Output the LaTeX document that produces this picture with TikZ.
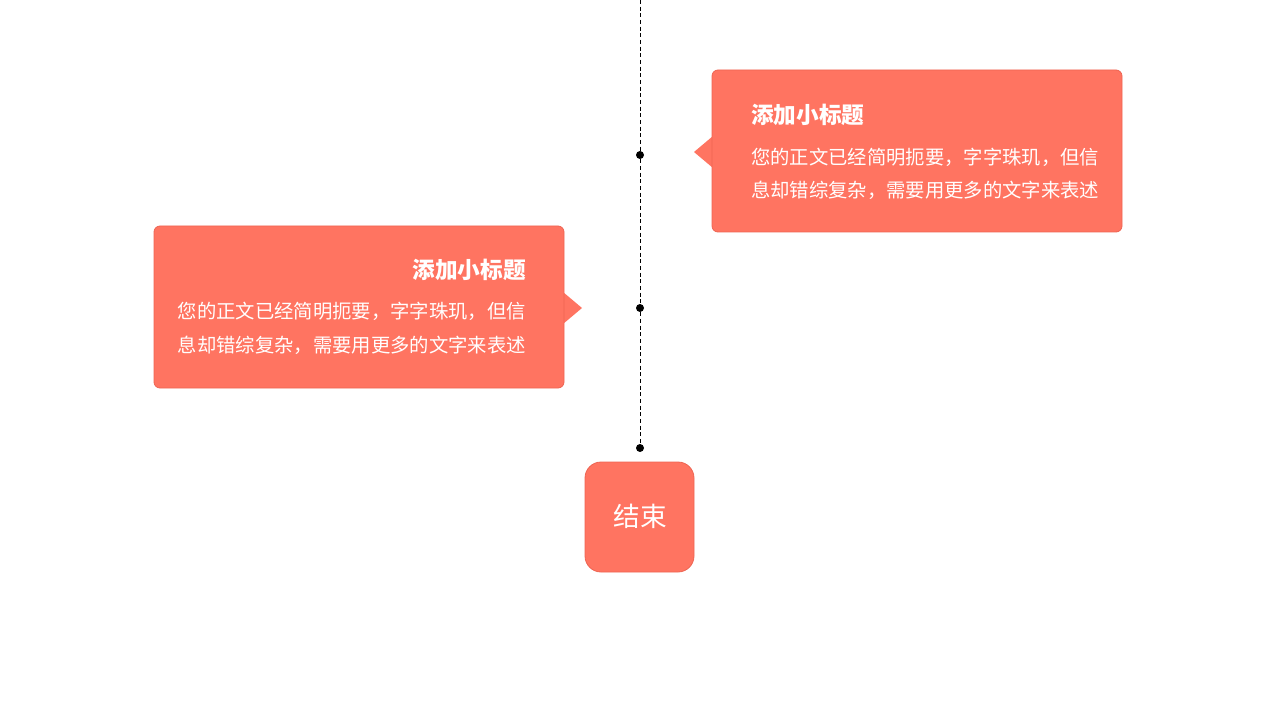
\documentclass[tikz,border=0pt]{standalone}
\usepackage{fontspec}
\setmainfont{Noto Sans CJK SC}
\begin{document}
\begin{tikzpicture}[x=0.75pt,y=-0.75pt]
\definecolor{boxc}{HTML}{FF7461}
\definecolor{boxd}{HTML}{EE6452}
\tikzset{card/.style={fill=boxc,draw=boxd,line width=0.6pt,rounded corners=4.5pt},
  ttl/.style={text=white,font=\fontsize{17}{20}\selectfont\bfseries,inner sep=0},
  body/.style={text=white,font=\fontsize{14.5}{17}\selectfont,inner sep=0},
  dot/.style={circle,fill=black,inner sep=0,minimum size=6pt}}
\useasboundingbox (0,0) rectangle (1280,720);
\coordinate (top) at (640,0);
\node[dot] (d1) at (640,155) {};
\node[dot] (d2) at (640,308) {};
\node[dot] (d3) at (640,448) {};
\draw[dashed,line width=0.7pt,dash pattern=on 3pt off 2pt] (top) -- (d1) -- (d2) -- (d3);
% right card
\fill[boxc] (694,152) -- (713,136) -- (713,168) -- cycle;
\draw[card] (712,70) rectangle (1122,232);
\node[ttl,anchor=west] (t1) at (751,115) {添加小标题};
\node[body,anchor=west] (b1) at (751,157) {您的正文已经简明扼要，字字珠玑，但信};
\node[body,anchor=west] (b2) at (751,190) {息却错综复杂，需要用更多的文字来表述};
% left card
\fill[boxc] (582,308) -- (563,292) -- (563,324) -- cycle;
\draw[card] (154,226) rectangle (564,388);
\node[ttl,anchor=east] (t2) at (526,270) {添加小标题};
\node[body,anchor=east] (b3) at (526,311) {您的正文已经简明扼要，字字珠玑，但信};
\node[body,anchor=east] (b4) at (526,345) {息却错综复杂，需要用更多的文字来表述};
% end
\draw[card,rounded corners=12pt] (585,462) rectangle (694,572);
\node[text=white,font=\fontsize{20}{24}\selectfont,inner sep=0] (end) at (640,516) {结束};
\end{tikzpicture}
\end{document}
